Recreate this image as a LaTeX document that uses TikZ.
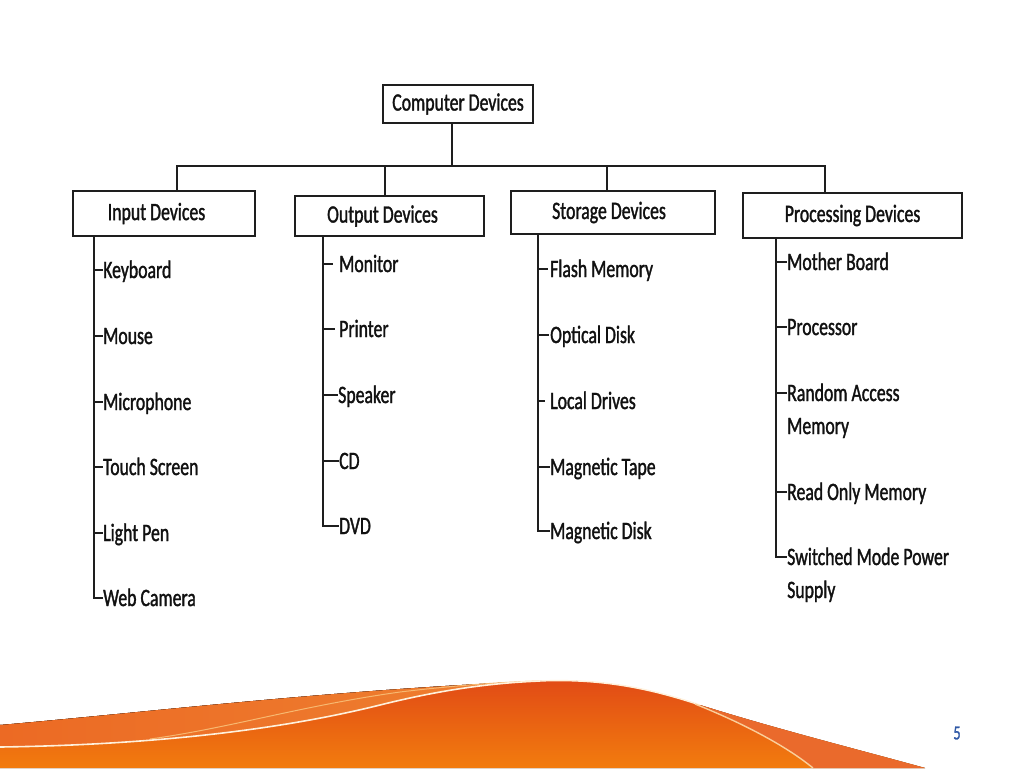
\documentclass[tikz,border=0pt]{standalone}
\usepackage{fontspec}
\setmainfont{Carlito}[FakeStretch=0.71, FakeBold=1.3]
\definecolor{ln}{HTML}{1E1E1E}
\definecolor{txt}{HTML}{111111}
\definecolor{numblue}{HTML}{2F58A6}
\definecolor{wvTop}{HTML}{E14A16}
\definecolor{wvBot}{HTML}{F27C0E}
\definecolor{bandL}{HTML}{EC6A24}
\definecolor{bandM}{HTML}{F2A03C}
\definecolor{bandR}{HTML}{EE8030}
\definecolor{bandRt}{HTML}{EA6A2C}
\definecolor{swoosh}{HTML}{FFF1DC}
\definecolor{faint}{HTML}{F7B870}
\begin{document}
\begin{tikzpicture}[x=1pt,y=-1pt,
  box/.style={draw=ln, line width=1.4pt, inner sep=0pt, text=txt,
    font=\fontsize{25}{30}\selectfont},
  item/.style={anchor=west, inner sep=0pt, text=txt, text height=16pt, text depth=0pt,
    font=\fontsize{25}{33}\selectfont},
  conn/.style={draw=ln, line width=1.4pt}]
\useasboundingbox (0,0) rectangle (1024,768);
\fill[white] (0,0) rectangle (1024,768);

% ---------- bottom wave ----------
\fill[top color=wvTop, bottom color=wvBot]
  (0,768) -- (0,725) .. controls (150,712) and (330,690) .. (540,681)
  .. controls (610,678) and (660,692) .. (700,705)
  .. controls (780,730) and (860,750) .. (925,768) -- cycle;
\fill[left color=bandL, middle color=bandM, right color=bandR]
  (0,725) .. controls (150,712) and (330,690) .. (540,681)
  .. controls (490,683) and (440,690) .. (380,705)
  .. controls (280,730) and (150,745) .. (0,747) -- cycle;
\fill[bandRt]
  (700,705) .. controls (780,730) and (860,750) .. (925,768)
  -- (813,768) .. controls (785,745) and (740,722) .. (700,705) -- cycle;
\draw[faint, line width=1pt]
  (150,739) .. controls (230,728) and (300,706) .. (400,692)
  .. controls (450,686) and (500,682) .. (540,681);
\draw[swoosh, line width=1.6pt]
  (0,747) .. controls (150,745) and (280,730) .. (380,705)
  .. controls (440,690) and (490,683) .. (540,681);
\draw[swoosh, line width=1.4pt]
  (540,681) .. controls (610,678) and (660,692) .. (700,705);
\draw[faint!60!swoosh, line width=1.4pt]
  (695,704) .. controls (740,722) and (785,745) .. (813,768);

\node[text=numblue, font=\fontsize{20}{24}\selectfont, inner sep=0pt] (pg) at (957,733) {5};

% ---------- tree boxes ----------
\node[box, minimum width=150pt, minimum height=38pt] (root) at (458,104) {Computer Devices};
\node[box, minimum width=182pt, minimum height=45pt] (in)   at (164,213.5) {\hspace*{-15pt}Input Devices};
\node[box, minimum width=189pt, minimum height=40pt] (out)  at (389.5,216) {\hspace*{-14pt}Output Devices};
\node[box, minimum width=204pt, minimum height=43pt] (stor) at (613,212.5) {\hspace*{-8pt}Storage Devices};
\node[box, minimum width=219pt, minimum height=45pt] (proc) at (852.5,215.5) {Processing Devices};

\coordinate (b0) at (452,166);
\coordinate (b1) at (177,166);
\coordinate (b2) at (385,166);
\coordinate (b3) at (607,166);
\coordinate (b4) at (825,166);
\draw[conn] (root.south -| b0) -- (b0);
\draw[conn] (in.north -| b1) -- (b1) -- (b4) -- (proc.north -| b4);
\draw[conn] (b2) -- (out.north -| b2);
\draw[conn] (b3) -- (stor.north -| b3);

% ---------- Input items ----------
\coordinate (vi) at (94,0);
\node[item] (i1) at (103,270) {Keyboard};
\node[item] (i2) at (103,336) {Mouse};
\node[item] (i3) at (103,402) {Microphone};
\node[item] (i4) at (103,467) {Touch Screen};
\node[item] (i5) at (103,533) {Light Pen};
\node[item] (i6) at (103,598) {Web Camera};
\draw[conn] (in.south -| vi) |- (i6.west);
\foreach \k in {1,...,5} \draw[conn] (i\k.west -| vi) -- (i\k.west);

% ---------- Output items ----------
\coordinate (vo) at (323,0);
\node[item] (o1) at (339,264) {Monitor};
\node[item] (o2) at (339,329) {Printer};
\node[item] (o3) at (338,395) {Speaker};
\node[item] (o4) at (339,461) {CD};
\node[item] (o5) at (339,526) {DVD};
\draw[conn] (out.south -| vo) |- (o5.west);
\draw[conn, shorten >=6pt] (o1.west -| vo) -- (o1.west);
\draw[conn, shorten >=4pt] (o2.west -| vo) -- (o2.west);
\draw[conn] (o3.west -| vo) -- (o3.west);
\draw[conn] (o4.west -| vo) -- (o4.west);

% ---------- Storage items ----------
\coordinate (vs) at (538,0);
\node[item] (s1) at (550,269) {Flash Memory};
\node[item] (s2) at (550,335) {Optical Disk};
\node[item] (s3) at (550,401) {Local Drives};
\node[item] (s4) at (550,467) {Magnetic Tape};
\node[item] (s5) at (550,531) {Magnetic Disk};
\draw[conn] (stor.south -| vs) |- (s5.west);
\draw[conn, shorten >=2pt] (s1.west -| vs) -- (s1.west);
\draw[conn, shorten >=1pt] (s2.west -| vs) -- (s2.west);
\draw[conn, shorten >=5pt] (s3.west -| vs) -- (s3.west);
\draw[conn] (s4.west -| vs) -- (s4.west);

% ---------- Processing items ----------
\coordinate (vp) at (776,0);
\node[item] (p1) at (787,262) {Mother Board};
\node[item] (p2) at (787,327) {Processor};
\node[item] (p3) at (787,393) {\begin{tabular}[t]{@{}l@{}}Random Access\\Memory\end{tabular}};
\node[item] (p4) at (787,492) {Read Only Memory};
\node[item] (p5) at (787,557) {\begin{tabular}[t]{@{}l@{}}Switched Mode Power\\Supply\end{tabular}};
\draw[conn] (proc.south -| vp) |- (p5.west);
\foreach \k in {1,...,4} \draw[conn] (p\k.west -| vp) -- (p\k.west);
\end{tikzpicture}
\end{document}
